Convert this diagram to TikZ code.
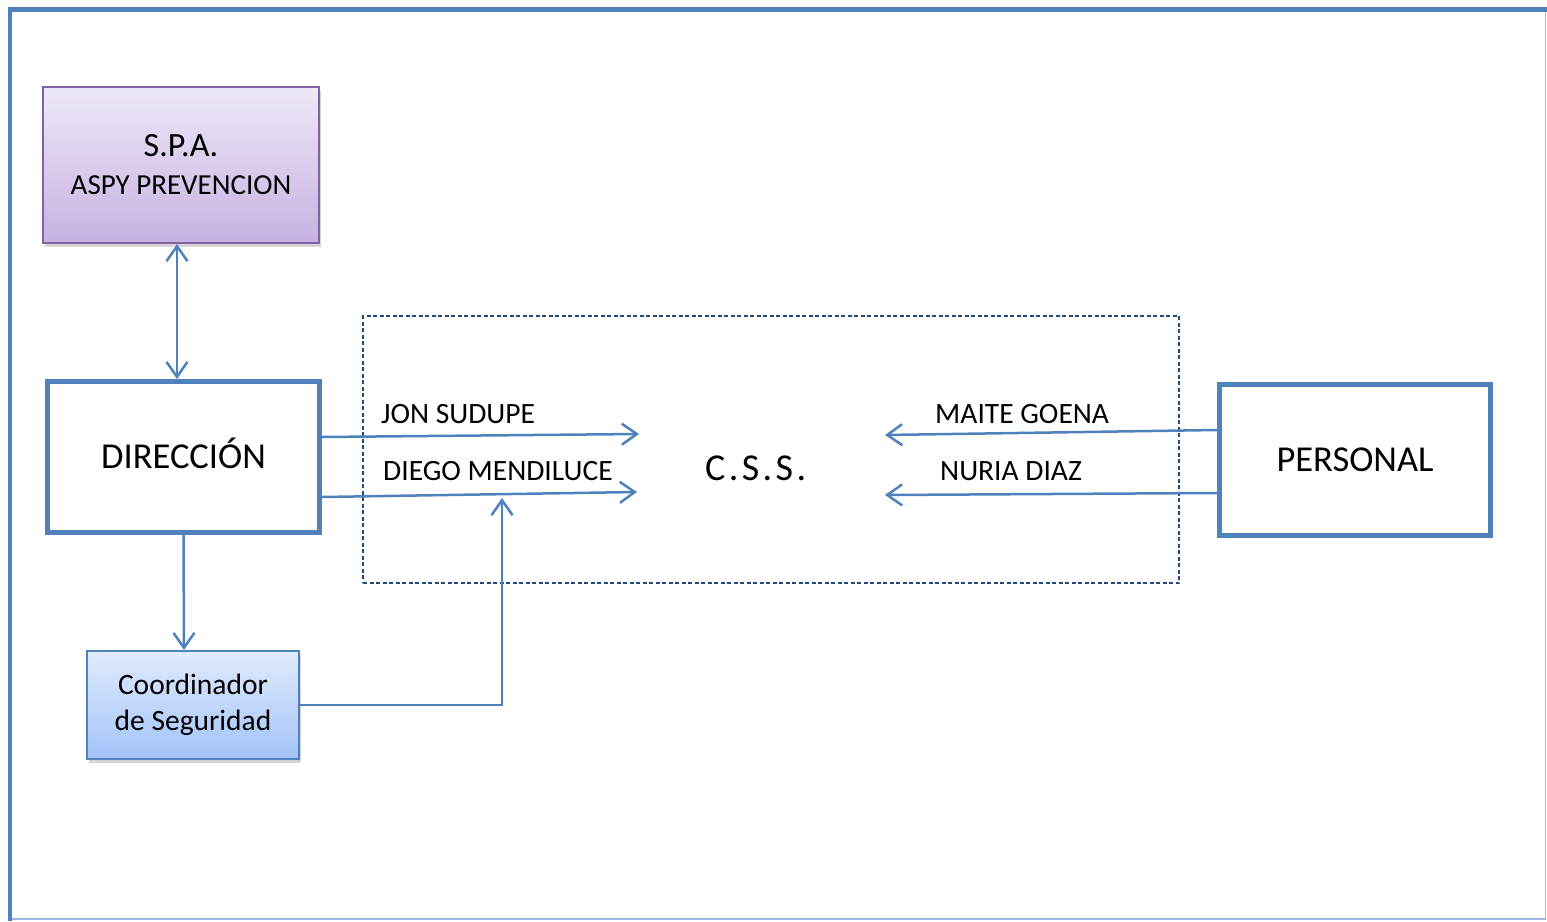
\documentclass[tikz,border=0pt]{standalone}
\usepackage{fontspec}
\setmainfont{Carlito}
\usetikzlibrary{arrows.meta,shadows,calc}
\definecolor{accent}{HTML}{4F81BD}
\definecolor{framelight}{HTML}{9DB9DE}
\definecolor{darkdash}{HTML}{1F497D}
\definecolor{spatop}{HTML}{EEE8F7}
\definecolor{spabot}{HTML}{C6B2E2}
\definecolor{spaline}{HTML}{8064A2}
\definecolor{cootop}{HTML}{E1EBFD}
\definecolor{coobot}{HTML}{A2C3F8}
\tikzset{
  mainbox/.style={draw=accent, line width=5pt, fill=white, minimum width=272pt, minimum height=151pt,
    inner sep=0pt, text height=23pt, text depth=0pt, font=\fontsize{36.5}{40}\selectfont},
  spabox/.style={draw=spaline, line width=2pt, top color=spatop, bottom color=spabot,
    minimum width=276pt, minimum height=156pt, inner sep=0pt, align=center,
    font=\fontsize{29}{38}\selectfont,
    drop shadow={shadow xshift=2pt, shadow yshift=-4pt, opacity=0.3, fill=black!55}},
  coobox/.style={draw=accent, line width=2pt, top color=cootop, bottom color=coobot,
    minimum width=212pt, minimum height=108pt, inner sep=0pt, align=center,
    font=\fontsize{29.5}{36}\selectfont,
    drop shadow={shadow xshift=2pt, shadow yshift=-4pt, opacity=0.3, fill=black!55}},
  conn/.style={draw=accent, line width=2.5pt},
  lbl/.style={anchor=base west, inner sep=0pt, font=\fontsize{29.5}{32}\selectfont},
  >={Straight Barb[length=15pt,width=21pt]}
}
\begin{document}
\begin{tikzpicture}[x=1pt,y=-1pt]
\useasboundingbox (0,0) rectangle (1547,921);
% frame
\draw[framelight, line width=1.5pt] (10,10) rectangle (1545.5,919);
\draw[accent, line width=4.5pt] (9.8,921) -- (9.8,9.3) -- (1547,9.3);

% nodes
\node[spabox] (spa) at (181,165) {{\fontsize{34}{38}\selectfont S.P.A.}\\ASPY PREVENCION};
\node[mainbox] (dir) at (183.5,457) {DIRECCIÓN};
\node[mainbox, minimum width=271pt] (pers) at (1355,459.5) {PERSONAL};
\node[coobox] (coo) at (193,705) {Coordinador\\de Seguridad};
\node[draw=darkdash, line width=1.5pt, dash pattern=on 4pt off 2.5pt, minimum width=816pt, minimum height=267pt, inner sep=0pt] (cssbox) at (771,449.5) {};
\node[anchor=base west, inner sep=0pt, font=\fontsize{38}{40}\selectfont\addfontfeatures{LetterSpace=9}] (css) at (705,480) {C.S.S.};

% labels
\node[lbl] (ljon) at (381,423) {JON SUDUPE};
\node[lbl] (ldie) at (383,480) {DIEGO MENDILUCE};
\node[lbl] (lmai) at (935,423) {MAITE GOENA};
\node[lbl] (lnur) at (940,480) {NURIA DIAZ};

% coordinates for free ends
\coordinate (jonE) at (639,434);
\coordinate (dieE) at (637,492);
\coordinate (maiE) at (885,435);
\coordinate (nurE) at (885,495);
\coordinate (cooE) at (502,498);
\coordinate (xs) at (177,0);
\coordinate (xc) at (184,0);

% connectors
\draw[conn, <->] (spa.south -| xs) -- (dir.north -| xs);
\draw[conn, ->] (dir.south) -- (coo.north -| xc);
\draw[conn, ->] (dir.east |- 0,437) -- (jonE);
\draw[conn, ->] (dir.east |- 0,497) -- (dieE);
\draw[conn, ->] (pers.west |- 0,430) -- (maiE);
\draw[conn, ->] (pers.west |- 0,493) -- (nurE);
\draw[conn, ->] (coo.east) -| (cooE);
\end{tikzpicture}
\end{document}
